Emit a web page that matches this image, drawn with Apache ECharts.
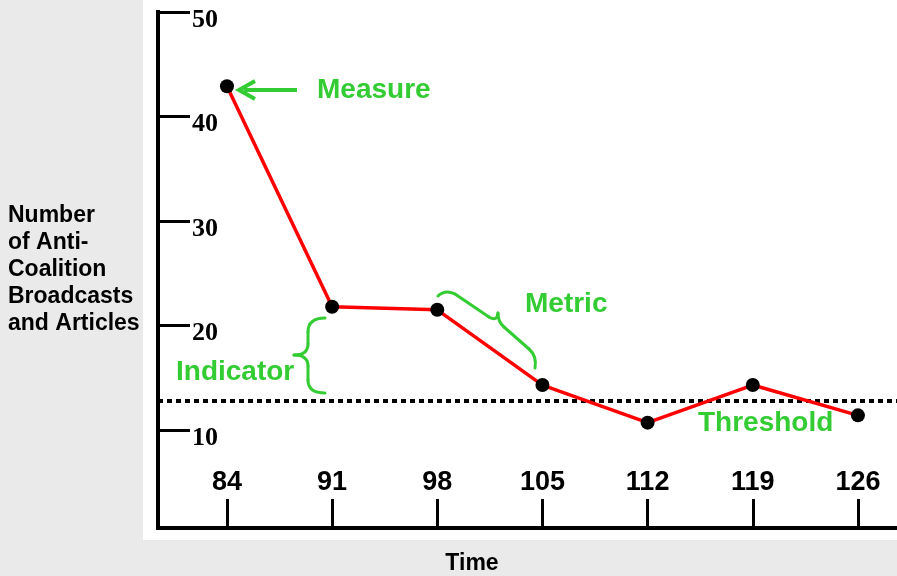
<!DOCTYPE html>
<html>
<head>
<meta charset="utf-8">
<script src="https://cdn.jsdelivr.net/npm/echarts@6/dist/echarts.min.js"></script>
<style>
html,body{margin:0;padding:0;background:#eaeaea;}
#chart{width:897px;height:576px;}
</style>
</head>
<body>
<div id="chart"></div>
<script>
// ---- data ----
var timeTicks = [84, 91, 98, 105, 112, 119, 126];
var counts = [42.9, 21.8, 21.5, 14.3, 10.7, 14.3, 11.4];
var valueTicks = [10, 20, 30, 40, 50];
var threshold = 12.8;
var yAxisTitle = ['Number', 'of Anti-', 'Coalition', 'Broadcasts', 'and Articles'];
var xAxisTitle = 'Time';
var notes = { measure: 'Measure', metric: 'Metric', indicator: 'Indicator', threshold: 'Threshold' };

var points = timeTicks.map(function (t, i) { return [t, counts[i]]; });

var green = '#33cc33';
var noteFont = 'bold 28px "Liberation Sans", Arial, sans-serif';

// brace drawing helper: segments are ['L', x1,y1,x2,y2] or ['Q', x1,y1,cx,cy,x2,y2]
function brace(segs) {
  return segs.map(function (s) {
    if (s[0] === 'L') {
      return { type: 'line', silent: true, z: 10, shape: { x1: s[1], y1: s[2], x2: s[3], y2: s[4] }, style: { stroke: green, lineWidth: 3, lineCap: 'round' } };
    }
    return { type: 'bezierCurve', silent: true, z: 10, shape: { x1: s[1], y1: s[2], cpx1: s[3], cpy1: s[4], x2: s[5], y2: s[6] }, style: { stroke: green, lineWidth: 3, fill: null, lineCap: 'round' } };
  });
}

var indicatorBrace = brace([
  ['Q', 325, 318, 308, 318, 308, 332],
  ['L', 308, 332, 308, 344],
  ['Q', 308, 344, 308, 355, 294, 355],
  ['Q', 294, 355, 308, 355, 308, 366],
  ['L', 308, 366, 308, 380],
  ['Q', 308, 380, 308, 393, 325, 393]
]);
var metricBrace = brace([
  ['Q', 438, 296, 445, 289, 455, 294],
  ['L', 455, 294, 489, 317],
  ['Q', 489, 317, 497, 322, 498, 313],
  ['Q', 498, 313, 498, 322, 504, 327],
  ['L', 504, 327, 529, 349],
  ['Q', 529, 349, 537, 356, 535, 368]
]);

var chart = echarts.init(document.getElementById('chart'));
chart.setOption({
  backgroundColor: '#eaeaea',
  animation: false,
  grid: { left: 158, top: 12, right: 0, bottom: 48, containLabel: false },
  xAxis: {
    type: 'value',
    min: 79.41,
    max: 128.6,
    splitLine: { show: false },
    axisLine: { show: true, onZero: false, lineStyle: { color: '#000', width: 4, cap: 'square' } },
    axisTick: { show: true, inside: true, length: 29, customValues: timeTicks, lineStyle: { color: '#000', width: 3 } },
    axisLabel: {
      show: true, inside: true, margin: 32, customValues: timeTicks,
      color: '#000', fontFamily: '"Liberation Sans", Arial, sans-serif', fontWeight: 'bold', fontSize: 27
    }
  },
  yAxis: {
    type: 'value',
    min: 0.62,
    max: 50,
    splitLine: { show: false },
    axisLine: { show: true, onZero: false, lineStyle: { color: '#000', width: 4, cap: 'square' } },
    axisTick: { show: true, inside: true, length: 32, customValues: valueTicks, lineStyle: { color: '#000', width: 3 } },
    axisLabel: {
      show: true, inside: true, margin: 34, customValues: valueTicks,
      color: '#000', fontFamily: '"Liberation Serif", "Times New Roman", serif', fontWeight: 'bold', fontSize: 26,
      verticalAlign: 'top', lineHeight: 16
    }
  },
  series: [{
    type: 'line',
    data: points,
    z: 3,
    symbol: 'circle',
    symbolSize: 14,
    itemStyle: { color: '#000' },
    lineStyle: { color: '#ff0000', width: 3.5 },
    markLine: {
      silent: true,
      z: 1,
      symbol: ['none', 'none'],
      label: { show: false },
      lineStyle: { color: '#000', width: 4, type: [5, 4] },
      emphasis: { disabled: true },
      data: [{ yAxis: threshold }]
    }
  }],
  graphic: [
    { type: 'rect', z: -100, silent: true, shape: { x: 143, y: 0, width: 754, height: 540 }, style: { fill: '#ffffff' } },
    { type: 'text', silent: true, style: { text: yAxisTitle.join('\n'), x: 8, y: 202, fill: '#000', font: 'bold 23px "Liberation Sans", Arial, sans-serif', lineHeight: 27, verticalAlign: 'top' } },
    { type: 'text', silent: true, style: { text: xAxisTitle, x: 472, y: 564, fill: '#000', font: 'bold 23px "Liberation Sans", Arial, sans-serif', align: 'center', verticalAlign: 'middle' } },
    { type: 'text', silent: true, z: 10, style: { text: notes.measure, x: 317, y: 90, fill: green, font: noteFont, verticalAlign: 'middle' } },
    { type: 'text', silent: true, z: 10, style: { text: notes.metric, x: 525, y: 304, fill: green, font: noteFont, verticalAlign: 'middle' } },
    { type: 'text', silent: true, z: 10, style: { text: notes.indicator, x: 176, y: 372, fill: green, font: noteFont, verticalAlign: 'middle' } },
    { type: 'text', silent: true, z: 10, style: { text: notes.threshold, x: 698, y: 423, fill: green, font: noteFont, verticalAlign: 'middle' } },
    { type: 'line', silent: true, z: 10, shape: { x1: 297, y1: 90, x2: 244, y2: 90 }, style: { stroke: green, lineWidth: 4 } },
    { type: 'polyline', silent: true, z: 10, shape: { points: [[255, 81], [239, 90], [255, 99]] }, style: { stroke: green, lineWidth: 4, fill: null, lineJoin: 'miter' } }
  ].concat(indicatorBrace, metricBrace)
});
</script>
</body>
</html>
